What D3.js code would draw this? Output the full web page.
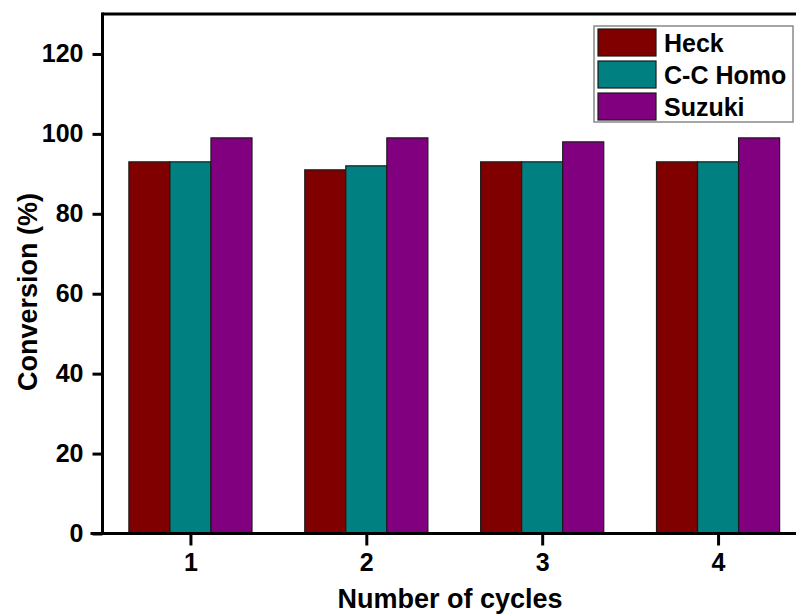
<!DOCTYPE html>
<html>
<head>
<meta charset="utf-8">
<script src="https://cdn.jsdelivr.net/npm/d3@7"></script>
<style>
  html, body { margin: 0; padding: 0; background: #fff; }
  svg { display: block; font-family: "Liberation Sans", Arial, sans-serif; }
</style>
</head>
<body>
<svg id="chart" width="796" height="614"></svg>
<script>
// Catalyst recycling: conversion per cycle for three coupling reactions
const cycles = ["1", "2", "3", "4"];
const seriesNames = ["Heck", "C-C Homo", "Suzuki"];
const heck = [93, 91, 93, 93];
const ccHomo = [93, 92, 93, 93];
const suzuki = [99, 99, 98, 99];
const yTicks = [0, 20, 40, 60, 80, 100, 120];
const colors = ["#800000", "#008080", "#800080"];

const seriesValues = [heck, ccHomo, suzuki];

const svg = d3.select("#chart");
const plotLeft = 102.5, plotRight = 806, plotTop = 14, plotBottom = 533.5;

const x = d3.scaleBand()
  .domain(cycles)
  .range([plotLeft, plotRight])
  .paddingInner(0.3)
  .paddingOuter(0.15);

const xSub = d3.scaleBand()
  .domain(seriesNames)
  .range([0, x.bandwidth()]);

const y = d3.scaleLinear().domain([0, 130]).range([plotBottom, plotTop]);

// bars
const groups = svg.append("g")
  .selectAll("g")
  .data(cycles)
  .join("g")
  .attr("transform", d => `translate(${x(d)},0)`);

groups.selectAll("rect")
  .data((c, i) => seriesNames.map((s, k) => ({ s, k, v: seriesValues[k][i] })))
  .join("rect")
  .attr("x", d => xSub(d.s))
  .attr("y", d => y(d.v))
  .attr("width", xSub.bandwidth())
  .attr("height", d => y(0) - y(d.v))
  .attr("fill", d => colors[d.k])
  .attr("stroke", "#1a1a1a")
  .attr("stroke-width", 1.2);

// frame: top and right edges
svg.append("line")
  .attr("x1", plotLeft).attr("x2", plotRight)
  .attr("y1", plotTop).attr("y2", plotTop)
  .attr("stroke", "#000").attr("stroke-width", 3);
svg.append("line")
  .attr("x1", plotRight).attr("x2", plotRight)
  .attr("y1", plotTop).attr("y2", plotBottom)
  .attr("stroke", "#000").attr("stroke-width", 3);

// y axis
const yAxis = svg.append("g")
  .attr("transform", `translate(${plotLeft},0)`)
  .call(d3.axisLeft(y).tickValues(yTicks).tickSize(10).tickPadding(9).tickSizeOuter(0));
yAxis.select(".domain").attr("stroke-width", 3).attr("d", `M0,${plotTop - 1.5}V${plotBottom + 1.5}`);
yAxis.selectAll(".tick line").attr("stroke-width", 3);
yAxis.selectAll(".tick text")
  .attr("font-size", 25).attr("font-weight", "bold").attr("fill", "#000")
  .attr("font-family", "'Liberation Sans', Arial, sans-serif");

// x axis
const xPos = d3.scalePoint().domain(cycles).range([x("1") + x.bandwidth() / 2, x("4") + x.bandwidth() / 2]);
const xAxis = svg.append("g")
  .attr("transform", `translate(0,${plotBottom})`)
  .call(d3.axisBottom(xPos).tickSize(12).tickPadding(8).tickSizeOuter(0));
xAxis.select(".domain").attr("stroke-width", 3).attr("d", `M${plotLeft - 12},0H${plotRight}`);
xAxis.selectAll(".tick line").attr("stroke-width", 3);
xAxis.selectAll(".tick text")
  .attr("font-size", 25).attr("font-weight", "bold").attr("fill", "#000")
  .attr("font-family", "'Liberation Sans', Arial, sans-serif");

// axis titles
svg.append("text")
  .attr("x", 450).attr("y", 608)
  .attr("text-anchor", "middle")
  .attr("font-size", 27).attr("font-weight", "bold")
  .text("Number of cycles");

svg.append("text")
  .attr("transform", "translate(37,292) rotate(-90)")
  .attr("text-anchor", "middle")
  .attr("font-size", 27).attr("font-weight", "bold")
  .text("Conversion (%)");

// legend
const legend = svg.append("g");
legend.append("rect")
  .attr("x", 594).attr("y", 26).attr("width", 199).attr("height", 96)
  .attr("fill", "#fff").attr("stroke", "#888").attr("stroke-width", 1.5);
const items = legend.selectAll("g.item")
  .data(seriesNames)
  .join("g")
  .attr("class", "item")
  .attr("transform", (d, i) => `translate(0,${i * 32})`);
items.append("rect")
  .attr("x", 598).attr("y", 29).attr("width", 58).attr("height", 27)
  .attr("fill", (d, i) => colors[i])
  .attr("stroke", "#1a1a1a").attr("stroke-width", 1.2);
items.append("text")
  .attr("x", 664).attr("y", 52)
  .attr("font-size", 25).attr("font-weight", "bold")
  .text(d => d);
</script>
</body>
</html>
